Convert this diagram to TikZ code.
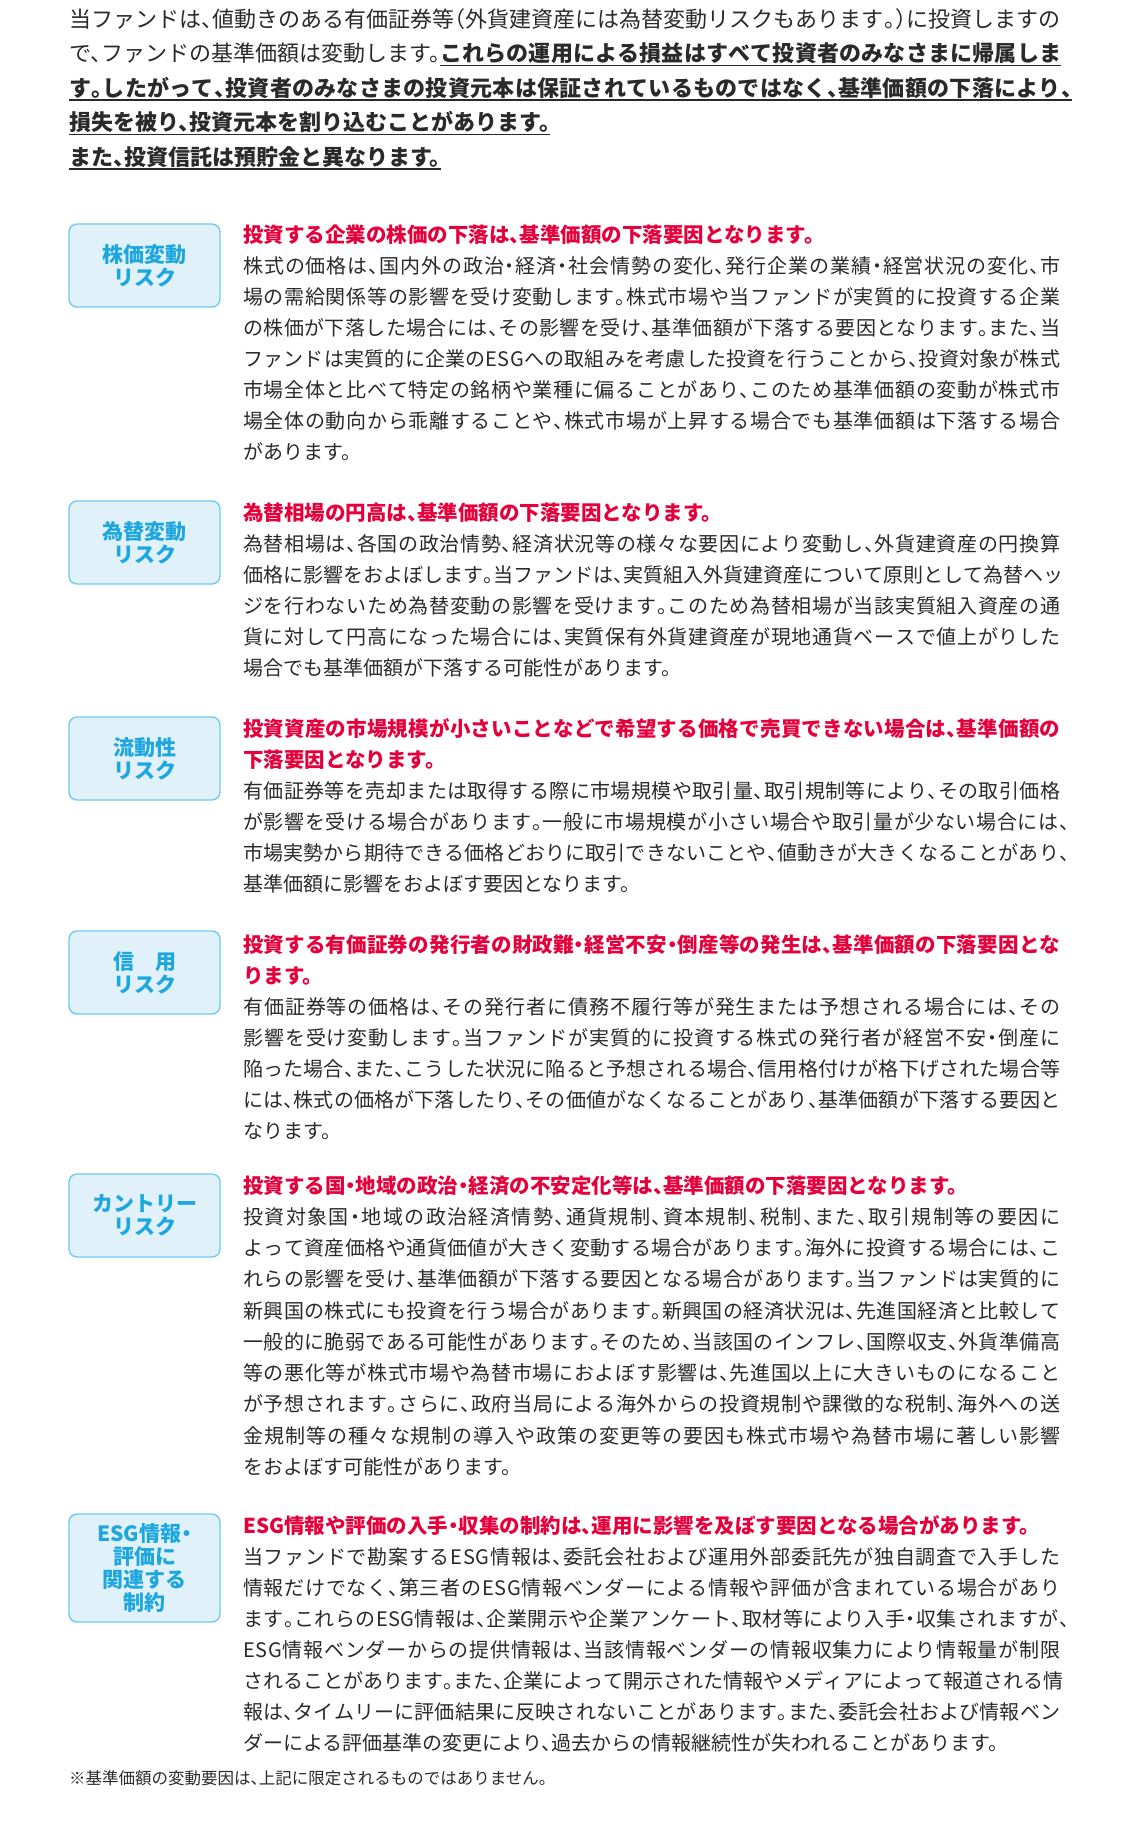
\documentclass[tikz,border=0pt]{standalone}
\usepackage{fontspec}
\usepackage{tikz}
\setmainfont{Noto Sans CJK JP}[RawFeature=+halt]

\definecolor{riskfill}{HTML}{E1F1FA}
\definecolor{riskline}{HTML}{72CBEF}
\definecolor{risktext}{HTML}{1EA7DF}
\definecolor{headred}{HTML}{E5003C}
\definecolor{bodytext}{HTML}{2A2A2A}

% justified lines: glue between all characters
\makeatletter
\newcommand{\spreadto}[2]{\hbox to #1{\@tfor\sp@c:=#2\do{\sp@c\hskip 0pt plus 1fil}\unskip}}
\makeatother
\newcommand{\bodyline}[2][817pt]{\spreadto{#1}{#2}}
\newcommand{\introline}[1]{\spreadto{991pt}{#1}}
% underlined text
\newcommand{\ulfull}[2]{\rlap{\rule[-4.9pt]{#1}{1.8pt}}\spreadto{#1}{#2}}
\newcommand{\ulnat}[1]{\setbox0\hbox{#1}\rlap{\rule[-4.9pt]{\wd0}{1.8pt}}\box0}

\begin{document}
\begin{tikzpicture}[x=1pt,y=-1pt,
    intro/.style={anchor=base west,inner sep=0pt,text=bodytext,font=\fontsize{22}{22}\selectfont},
    head/.style={anchor=base west,inner sep=0pt,text=headred,font=\bfseries\fontsize{20.5}{20.5}\selectfont},
    body/.style={anchor=base west,inner sep=0pt,text=bodytext,font=\fontsize{20}{20}\selectfont},
    note/.style={anchor=base west,inner sep=0pt,text=bodytext,font=\fontsize{16.5}{16.5}\selectfont},
    risk/.style={draw=riskline,line width=1.4pt,fill=riskfill,rounded corners=8pt,minimum width=151pt,minimum height=83pt,inner sep=0pt,align=center,text=risktext,font=\bfseries\fontsize{21}{23}\selectfont}]
           \useasboundingbox[fill=white] (0,0) rectangle (1130,1824);

           % intro
           \node[intro] (intro1) at (69,27) {\introline{当ファンドは、値動きのある有価証券等（外貨建資産には為替変動リスクもあります。）に投資しますの}};
           \node[intro] (intro2) at (69,61.5) {\setbox0\hbox{で、ファンドの基準価額は変動します。}\copy0{\bfseries\ulfull{\dimexpr992pt-\wd0\relax}{これらの運用による損益はすべて投資者のみなさまに帰属しま}}};
           \node[intro] (intro3) at (69,96) {\bfseries\ulfull{1003pt}{す。したがって、投資者のみなさまの投資元本は保証されているものではなく、基準価額の下落により、}};
           \node[intro] (intro4) at (69,130.5) {\ulnat{\bfseries 損失を被り、投資元本を割り込むことがあります。}};
           \node[intro] (intro5) at (69,165) {\ulnat{\bfseries また、投資信託は預貯金と異なります。}};

           % 株価変動リスク
           \node[risk] (kabu) at (144.5,265.5) {株価変動\\リスク};
           \node[head] (kabuh) at (243,242) {投資する企業の株価の下落は、基準価額の下落要因となります。};
           \node[body] (kabu1) at (243,273) {\bodyline{株式の価格は、国内外の政治・経済・社会情勢の変化、発行企業の業績・経営状況の変化、市}};
           \node[body] (kabu2) at (243,304) {\bodyline{場の需給関係等の影響を受け変動します。株式市場や当ファンドが実質的に投資する企業}};
           \node[body] (kabu3) at (243,335) {\bodyline{の株価が下落した場合には、その影響を受け、基準価額が下落する要因となります。また、当}};
           \node[body] (kabu4) at (243,366) {\bodyline{ファンドは実質的に企業のESGへの取組みを考慮した投資を行うことから、投資対象が株式}};
           \node[body] (kabu5) at (243,397) {\bodyline{市場全体と比べて特定の銘柄や業種に偏ることがあり、このため基準価額の変動が株式市}};
           \node[body] (kabu6) at (243,428) {\bodyline{場全体の動向から乖離することや、株式市場が上昇する場合でも基準価額は下落する場合}};
           \node[body] (kabu7) at (243,459) {があります。};

           % 為替変動リスク
           \node[risk] (kawase) at (144.5,542.5) {為替変動\\リスク};
           \node[head] (kawaseh) at (243,520) {為替相場の円高は、基準価額の下落要因となります。};
           \node[body] (kawase1) at (243,551) {\bodyline{為替相場は、各国の政治情勢、経済状況等の様々な要因により変動し、外貨建資産の円換算}};
           \node[body] (kawase2) at (243,582) {\bodyline{価格に影響をおよぼします。当ファンドは、実質組入外貨建資産について原則として為替ヘッ}};
           \node[body] (kawase3) at (243,613) {\bodyline{ジを行わないため為替変動の影響を受けます。このため為替相場が当該実質組入資産の通}};
           \node[body] (kawase4) at (243,644) {\bodyline{貨に対して円高になった場合には、実質保有外貨建資産が現地通貨ベースで値上がりした}};
           \node[body] (kawase5) at (243,675) {場合でも基準価額が下落する可能性があります。};

           % 流動性リスク
           \node[risk] (ryudo) at (144.5,758.5) {流動性\\リスク};
           \node[head] (ryudoh1) at (243,736) {\bodyline{投資資産の市場規模が小さいことなどで希望する価格で売買できない場合は、基準価額の}};
           \node[head] (ryudoh2) at (243,767) {下落要因となります。};
           \node[body] (ryudo1) at (243,798) {\bodyline{有価証券等を売却または取得する際に市場規模や取引量、取引規制等により、その取引価格}};
           \node[body] (ryudo2) at (243,829) {\bodyline[826pt]{が影響を受ける場合があります。一般に市場規模が小さい場合や取引量が少ない場合には、}};
           \node[body] (ryudo3) at (243,860) {\bodyline[826pt]{市場実勢から期待できる価格どおりに取引できないことや、値動きが大きくなることがあり、}};
           \node[body] (ryudo4) at (243,891) {基準価額に影響をおよぼす要因となります。};

           % 信用リスク
           \node[risk] (shinyo) at (144.5,972.5) {信　用\\リスク};
           \node[head] (shinyoh1) at (243,952) {\bodyline{投資する有価証券の発行者の財政難・経営不安・倒産等の発生は、基準価額の下落要因とな}};
           \node[head] (shinyoh2) at (243,983) {ります。};
           \node[body] (shinyo1) at (243,1014) {\bodyline{有価証券等の価格は、その発行者に債務不履行等が発生または予想される場合には、その}};
           \node[body] (shinyo2) at (243,1045) {\bodyline{影響を受け変動します。当ファンドが実質的に投資する株式の発行者が経営不安・倒産に}};
           \node[body] (shinyo3) at (243,1076) {\bodyline{陥った場合、また、こうした状況に陥ると予想される場合、信用格付けが格下げされた場合等}};
           \node[body] (shinyo4) at (243,1107) {\bodyline{には、株式の価格が下落したり、その価値がなくなることがあり、基準価額が下落する要因と}};
           \node[body] (shinyo5) at (243,1138) {なります。};

           % カントリーリスク
           \node[risk] (country) at (144.5,1215.5) {カントリー\\リスク};
           \node[head] (countryh) at (243,1193) {投資する国・地域の政治・経済の不安定化等は、基準価額の下落要因となります。};
           \node[body] (country1) at (243,1224) {\bodyline{投資対象国・地域の政治経済情勢、通貨規制、資本規制、税制、また、取引規制等の要因に}};
           \node[body] (country2) at (243,1255) {\bodyline{よって資産価格や通貨価値が大きく変動する場合があります。海外に投資する場合には、こ}};
           \node[body] (country3) at (243,1286) {\bodyline{れらの影響を受け、基準価額が下落する要因となる場合があります。当ファンドは実質的に}};
           \node[body] (country4) at (243,1318) {\bodyline{新興国の株式にも投資を行う場合があります。新興国の経済状況は、先進国経済と比較して}};
           \node[body] (country5) at (243,1349) {\bodyline{一般的に脆弱である可能性があります。そのため、当該国のインフレ、国際収支、外貨準備高}};
           \node[body] (country6) at (243,1380) {\bodyline{等の悪化等が株式市場や為替市場におよぼす影響は、先進国以上に大きいものになること}};
           \node[body] (country7) at (243,1411) {\bodyline{が予想されます。さらに、政府当局による海外からの投資規制や課徴的な税制、海外への送}};
           \node[body] (country8) at (243,1443) {\bodyline{金規制等の種々な規制の導入や政策の変更等の要因も株式市場や為替市場に著しい影響}};
           \node[body] (country9) at (243,1474) {をおよぼす可能性があります。};

           % ESG
           \node[risk,minimum height=108pt] (esg) at (144.5,1568) {ESG情報・\\評価に\\関連する\\制約};
           \node[head] (esgh) at (243,1533) {ESG情報や評価の入手・収集の制約は、運用に影響を及ぼす要因となる場合があります。};
           \node[body] (esg1) at (243,1564) {\bodyline{当ファンドで勘案するESG情報は、委託会社および運用外部委託先が独自調査で入手した}};
           \node[body] (esg2) at (243,1595) {\bodyline{情報だけでなく、第三者のESG情報ベンダーによる情報や評価が含まれている場合があり}};
           \node[body] (esg3) at (243,1626) {\bodyline[826pt]{ます。これらのESG情報は、企業開示や企業アンケート、取材等により入手・収集されますが、}};
           \node[body] (esg4) at (243,1657) {\bodyline{ESG情報ベンダーからの提供情報は、当該情報ベンダーの情報収集力により情報量が制限}};
           \node[body] (esg5) at (243,1688) {\bodyline{されることがあります。また、企業によって開示された情報やメディアによって報道される情}};
           \node[body] (esg6) at (243,1719) {\bodyline{報は、タイムリーに評価結果に反映されないことがあります。また、委託会社および情報ベン}};
           \node[body] (esg7) at (243,1750) {ダーによる評価基準の変更により、過去からの情報継続性が失われることがあります。};

           \node[note] (note) at (69,1784) {※基準価額の変動要因は、上記に限定されるものではありません。};
        \end{tikzpicture}
\end{document}
